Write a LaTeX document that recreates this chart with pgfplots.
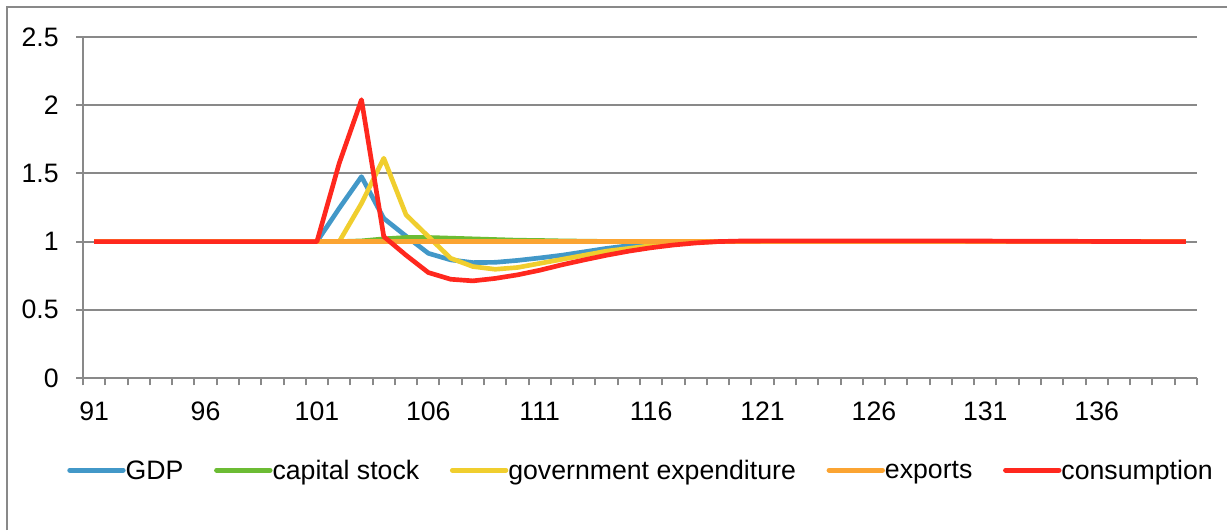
\documentclass[border=0pt]{standalone}
\usepackage{fontspec}
\setmainfont{Liberation Sans}
\usepackage{pgfplots}
\pgfplotsset{compat=1.18}

\definecolor{cgdp}{RGB}{66,152,200}
\definecolor{ccap}{RGB}{108,188,52}
\definecolor{cgov}{RGB}{240,206,46}
\definecolor{cexp}{RGB}{251,164,50}
\definecolor{ccons}{RGB}{255,40,30}
\definecolor{axgray}{RGB}{137,137,137}

% 1 px of the reference = 0.375pt
\begin{document}
\begin{tikzpicture}
\path[use as bounding box] (0,0) rectangle (460.125pt,-198.75pt);
\draw[axgray, line width=0.75pt] (2.625pt,-198.75pt) -- (2.625pt,-2.625pt) -- (460.125pt,-2.625pt);
\begin{axis}[
    at={(31.125pt,-141.75pt)}, anchor=south west,
    scale only axis,
    width=417.75pt, height=127.9pt,
    xmin=90.5, xmax=140.5,
    ymin=0, ymax=2.5,
    ytick={0,0.5,...,2.5},
    xtick={91,96,...,136},
    minor xtick={90.5,91.5,...,140.5},
    major x tick style={draw=none},
    tick align=outside,
    major tick length=2.6pt,
    minor tick length=2.8pt,
    tick style={axgray, line width=0.75pt},
    axis x line*=bottom,
    axis y line*=left,
    axis line style={axgray, line width=0.75pt},
    ymajorgrids,
    grid style={axgray, line width=0.75pt},
    /pgf/number format/assume math mode=true,
    yticklabel style={font=\fontsize{10}{12}\selectfont, xshift=-3pt},
    xticklabel style={font=\fontsize{10}{12}\selectfont, yshift=-3pt},
    xticklabel={\pgfmathprintnumber[fixed,precision=0]{\tick}},
    legend columns=-1,
    legend style={at={(0.5,-0.275)}, anchor=center, draw=none, fill=none,
        font=\fontsize{10}{12}\selectfont,
        nodes={inner sep=0pt},
        /tikz/every even column/.append style={column sep=11.5pt}},
    legend image code/.code={\draw[#1, line width=1.9pt, line cap=round] (0pt,0.6pt) -- (20pt,0.6pt);},
    every axis plot/.append style={line width=1.75pt, line join=round},
    clip=false,
]
\addplot[cgdp] table {
x y
91 1
92 1
93 1
94 1
95 1
96 1
97 1
98 1
99 1
100 1
101 1
102 1.244
103 1.476
104 1.17
105 1.04
106 0.914
107 0.866
108 0.846
109 0.848
110 0.862
111 0.88
112 0.9
113 0.925
114 0.95
115 0.97
116 0.985
117 0.993
118 0.998
119 1
120 1
121 1
122 1
123 1
124 1
125 1
126 1
127 1
128 1
129 1
130 1
131 1
132 1
133 1
134 1
135 1
136 1
137 1
138 1
139 1
140 1
};
\addlegendentry{GDP}
\addplot[ccap] table {
x y
91 1
101 1
102 1
103 1.005
104 1.02
105 1.03
106 1.03
107 1.025
108 1.02
109 1.015
110 1.01
111 1.008
112 1.005
113 1.003
114 1.001
115 1
140 1
};
\addlegendentry{capital stock}
\addplot[cgov] table {
x y
91 1
101 1
102 1
103 1.28
104 1.611
105 1.196
106 1.037
107 0.878
108 0.817
109 0.797
110 0.81
111 0.84
112 0.87
113 0.9
114 0.93
115 0.95
116 0.97
117 0.985
118 0.995
119 1
140 1
};
\addlegendentry{government expenditure}
\addplot[cexp] table {
x y
91 1
140 1
};
\addlegendentry{exports}
\addplot[ccons] table {
x y
91 1
92 1
93 1
94 1
95 1
96 1
97 1
98 1
99 1
100 1
101 1
102 1.574
103 2.04
104 1.037
105 0.9
106 0.773
107 0.724
108 0.712
109 0.73
110 0.756
111 0.79
112 0.83
113 0.866
114 0.9
115 0.93
116 0.955
117 0.975
118 0.99
119 1
120 1.004
121 1.005
122 1.005
123 1.005
124 1.005
125 1.005
126 1.005
127 1.005
128 1.005
129 1.005
130 1.005
131 1.004
132 1.003
133 1.003
134 1.002
135 1.002
136 1.001
137 1.001
138 1
139 1
140 1
};
\addlegendentry{consumption}
\end{axis}
\end{tikzpicture}
\end{document}
